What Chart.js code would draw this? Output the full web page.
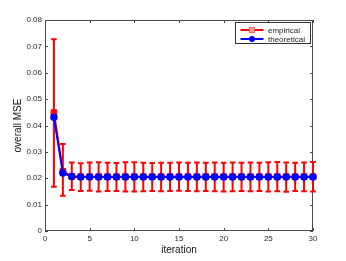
<!DOCTYPE html>
<html>
<head>
<meta charset="utf-8">
<script src="https://cdn.jsdelivr.net/npm/chart.js@4"></script>
<style>
  html, body { margin: 0; padding: 0; background: #fff; }
  #mseChart { display: block; }
</style>
</head>
<body>
<canvas id="mseChart" width="346" height="261"></canvas>
<script>
// Data
const iterations = [1, 2, 3, 4, 5, 6, 7, 8, 9, 10, 11, 12, 13, 14, 15,
  16, 17, 18, 19, 20, 21, 22, 23, 24, 25, 26, 27, 28, 29, 30];
const empirical = [0.0449, 0.0226, 0.0207, 0.0206, 0.0206, 0.0206, 0.0206, 0.0206, 0.0206, 0.0206,
  0.0206, 0.0206, 0.0206, 0.0206, 0.0206, 0.0206, 0.0206, 0.0206, 0.0206, 0.0206,
  0.0206, 0.0206, 0.0206, 0.0206, 0.0206, 0.0206, 0.0206, 0.0206, 0.0206, 0.0206];
const theoretical = [0.0431, 0.0220, 0.0207, 0.0205, 0.0205, 0.0205, 0.0205, 0.0205, 0.0205, 0.0205,
  0.0205, 0.0205, 0.0205, 0.0205, 0.0205, 0.0205, 0.0205, 0.0205, 0.0205, 0.0205,
  0.0205, 0.0205, 0.0205, 0.0205, 0.0205, 0.0205, 0.0205, 0.0205, 0.0205, 0.0205];
// error bar ends (empirical)
const errHigh = [0.0727, 0.0330, 0.0260, 0.0257, 0.0260, 0.0261, 0.0259, 0.0258, 0.0261, 0.0261,
  0.0259, 0.0258, 0.0259, 0.0259, 0.0260, 0.0259, 0.0260, 0.0259, 0.0260, 0.0259,
  0.0260, 0.0259, 0.0260, 0.0259, 0.0261, 0.0262, 0.0260, 0.0259, 0.0260, 0.0262];
const errLow = [0.0168, 0.0134, 0.0155, 0.0152, 0.0153, 0.0150, 0.0152, 0.0152, 0.0150, 0.0150,
  0.0151, 0.0152, 0.0151, 0.0152, 0.0153, 0.0152, 0.0151, 0.0152, 0.0151, 0.0150,
  0.0151, 0.0152, 0.0151, 0.0152, 0.0150, 0.0151, 0.0149, 0.0152, 0.0151, 0.0150];
const xTicks = [0, 5, 10, 15, 20, 25, 30];
const yTicks = [0, 0.01, 0.02, 0.03, 0.04, 0.05, 0.06, 0.07, 0.08];
const seriesNames = ['empirical', 'theoretical'];

const FONT = "'Liberation Sans', Arial, Helvetica, sans-serif";
const AXIS_COLOR = '#4a4a4a';

// Box + inward ticks on all four sides, then error bars
const framePlugin = {
  id: 'frame',
  beforeDatasetsDraw(chart) {
    const { ctx, chartArea: a, scales: { x, y } } = chart;
    ctx.save();
    ctx.strokeStyle = AXIS_COLOR;
    ctx.lineWidth = 1;
    ctx.strokeRect(a.left + 0.5, a.top + 0.5, a.right - a.left - 1, a.bottom - a.top - 1);
    ctx.beginPath();
    xTicks.forEach(v => {
      const px = Math.round(x.getPixelForValue(v)) + 0.5;
      ctx.moveTo(px, a.bottom); ctx.lineTo(px, a.bottom - 3);
      ctx.moveTo(px, a.top); ctx.lineTo(px, a.top + 3);
    });
    yTicks.forEach(v => {
      const py = Math.round(y.getPixelForValue(v)) + 0.5;
      ctx.moveTo(a.left, py); ctx.lineTo(a.left + 3, py);
      ctx.moveTo(a.right, py); ctx.lineTo(a.right - 3, py);
    });
    ctx.stroke();

    // error bars
    ctx.strokeStyle = '#ff0000';
    ctx.lineWidth = 2;
    ctx.beginPath();
    iterations.forEach((it, i) => {
      const px = x.getPixelForValue(it);
      const top = y.getPixelForValue(errHigh[i]);
      const bot = y.getPixelForValue(errLow[i]);
      ctx.moveTo(px, top); ctx.lineTo(px, bot);
      ctx.moveTo(px - 2.8, top); ctx.lineTo(px + 2.8, top);
      ctx.moveTo(px - 2.8, bot); ctx.lineTo(px + 2.8, bot);
    });
    ctx.stroke();
    ctx.restore();
  }
};

// MATLAB style legend box in the top right corner
const legendPlugin = {
  id: 'boxLegend',
  afterDraw(chart) {
    const { ctx, chartArea: a } = chart;
    const bx = a.right - 77.5, by = a.top + 2.5, bw = 75, bh = 21;
    ctx.save();
    ctx.fillStyle = '#fff';
    ctx.fillRect(bx, by, bw, bh);
    ctx.strokeStyle = '#333';
    ctx.lineWidth = 1;
    ctx.strokeRect(bx, by, bw, bh);

    const rows = [
      { y: by + 7.5, color: '#ff0000', marker: 'rect' },
      { y: by + 16.5, color: '#0000ff', marker: 'circle' }
    ];
    rows.forEach((r, i) => {
      ctx.strokeStyle = r.color;
      ctx.lineWidth = 2;
      ctx.beginPath();
      ctx.moveTo(bx + 5, r.y); ctx.lineTo(bx + 28, r.y);
      ctx.stroke();
      const mx = bx + 16.5;
      ctx.lineWidth = 1;
      if (r.marker === 'rect') {
        ctx.fillStyle = '#ffa0a0';
        ctx.fillRect(mx - 2.5, r.y - 2.5, 5, 5);
        ctx.strokeStyle = '#ff6060';
        ctx.strokeRect(mx - 2.5, r.y - 2.5, 5, 5);
      } else {
        ctx.fillStyle = r.color;
        ctx.beginPath();
        ctx.arc(mx, r.y, 3, 0, Math.PI * 2);
        ctx.fill();
      }
      ctx.fillStyle = '#222';
      ctx.font = '8px ' + FONT;
      ctx.textBaseline = 'middle';
      ctx.textAlign = 'left';
      ctx.fillText(seriesNames[i], bx + 32.5, r.y + 0.5);
    });
    ctx.restore();
  }
};

const ctx = document.getElementById('mseChart').getContext('2d');

new Chart(ctx, {
  type: 'line',
  data: {
    datasets: [
      {
        label: seriesNames[0],
        data: iterations.map((it, i) => ({ x: it, y: empirical[i] })),
        borderColor: '#ff0000',
        backgroundColor: '#ff0000',
        borderWidth: 2,
        pointStyle: 'rect',
        pointRadius: 4,
        pointBorderWidth: 1,
        tension: 0,
        clip: false,
        order: 2
      },
      {
        label: seriesNames[1],
        data: iterations.map((it, i) => ({ x: it, y: theoretical[i] })),
        borderColor: '#0000ff',
        backgroundColor: '#0000ff',
        borderWidth: 2,
        pointStyle: 'circle',
        pointRadius: 3,
        pointBorderWidth: 1.5,
        tension: 0,
        clip: false,
        order: 1
      }
    ]
  },
  options: {
    responsive: false,
    animation: false,
    devicePixelRatio: 1,
    layout: { padding: { top: 20, right: 33, left: 0, bottom: 0 } },
    plugins: {
      legend: { display: false },
      tooltip: { enabled: false }
    },
    scales: {
      x: {
        type: 'linear',
        min: 0,
        max: 30,
        afterFit(scale) { scale.height = 30; },
        afterBuildTicks(scale) { scale.ticks = xTicks.map(v => ({ value: v })); },
        grid: { display: false, drawTicks: false },
        border: { display: false },
        ticks: {
          padding: 3,
          color: '#2a2a2a',
          font: { family: FONT, size: 8 },
          maxRotation: 0
        },
        title: {
          display: true,
          text: 'iteration',
          color: '#111',
          font: { family: FONT, size: 10 },
          padding: { top: 0, bottom: 5 }
        }
      },
      y: {
        type: 'linear',
        min: 0,
        max: 0.08,
        afterFit(scale) { scale.width = 45; },
        afterBuildTicks(scale) { scale.ticks = yTicks.map(v => ({ value: v })); },
        grid: { display: false, drawTicks: false },
        border: { display: false },
        ticks: {
          padding: 3,
          color: '#2a2a2a',
          font: { family: FONT, size: 8 },
          callback: v => v === 0 ? '0' : v.toFixed(2)
        },
        title: {
          display: true,
          text: 'overall MSE',
          color: '#111',
          font: { family: FONT, size: 10 },
          padding: { top: 12, bottom: 0 }
        }
      }
    }
  },
  plugins: [framePlugin, legendPlugin]
});
</script>
</body>
</html>
